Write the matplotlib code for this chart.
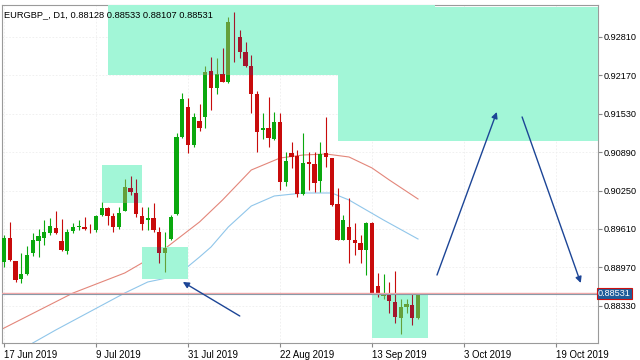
import matplotlib
matplotlib.use('Agg')
import matplotlib.pyplot as plt
from matplotlib.patches import Rectangle

# daily EURGBP candles, 17 Jun 2019 onwards
opens = [0.89060, 0.89460, 0.89077, 0.88777, 0.88860, 0.89210, 0.89410, 0.89460, 0.89543, 0.89627,
         0.89410, 0.89243, 0.89577, 0.89643, 0.89643, 0.89577, 0.89593, 0.89843, 0.89960, 0.89827,
         0.89643, 0.89910, 0.90293, 0.90210, 0.89827, 0.89760, 0.89793, 0.89560, 0.89210, 0.89443,
         0.89860, 0.91143, 0.91643, 0.91010, 0.91410, 0.91477, 0.92243, 0.91960, 0.92193, 0.92060,
         0.92827, 0.92810, 0.92560, 0.92327, 0.91860, 0.91260, 0.91293, 0.91110, 0.91393, 0.90393,
         0.90877, 0.90827, 0.90193, 0.90727, 0.90693, 0.90410, 0.90877, 0.90793, 0.90027, 0.89427,
         0.89643, 0.89427, 0.89377, 0.89260, 0.89710, 0.88660, 0.88493, 0.88543, 0.88393, 0.88127,
         0.88310, 0.88343, 0.88128]
highs = [0.89510, 0.89727, 0.89077, 0.89210, 0.89327, 0.89543, 0.89610, 0.89760, 0.89793, 0.89910,
         0.89777, 0.89610, 0.89710, 0.89760, 0.89810, 0.89693, 0.89843, 0.90060, 0.89977, 0.89877,
         0.89977, 0.90443, 0.90493, 0.90443, 0.89977, 0.89977, 0.90043, 0.89643, 0.89560, 0.89843,
         0.91210, 0.91877, 0.91793, 0.91543, 0.91693, 0.92327, 0.92477, 0.92460, 0.92627, 0.93143,
         0.93227, 0.92927, 0.92727, 0.92510, 0.91910, 0.91543, 0.91810, 0.91560, 0.91543, 0.90893,
         0.91060, 0.90927, 0.91210, 0.90893, 0.90893, 0.91060, 0.91477, 0.90793, 0.90293, 0.89843,
         0.90127, 0.89710, 0.89510, 0.89720, 0.89727, 0.88877, 0.88860, 0.88727, 0.88910, 0.88443,
         0.88443, 0.88527, 0.88533]
lows = [0.88977, 0.89077, 0.88727, 0.88710, 0.88843, 0.89160, 0.89143, 0.89343, 0.89510, 0.89527,
        0.89243, 0.89193, 0.89543, 0.89593, 0.89593, 0.89543, 0.89560, 0.89827, 0.89677, 0.89560,
        0.89610, 0.89910, 0.90177, 0.89810, 0.89593, 0.89593, 0.89560, 0.89043, 0.88893, 0.89427,
        0.89843, 0.91127, 0.90877, 0.90977, 0.91243, 0.91293, 0.91593, 0.91860, 0.92060, 0.92043,
        0.92393, 0.92460, 0.92310, 0.91543, 0.90893, 0.91110, 0.90977, 0.91093, 0.90260, 0.90327,
        0.90627, 0.90143, 0.90177, 0.90260, 0.90227, 0.90227, 0.90643, 0.90000, 0.89420, 0.89420,
        0.89043, 0.89177, 0.89043, 0.88843, 0.88530, 0.88477, 0.88443, 0.88210, 0.88043, 0.87860,
        0.88210, 0.88010, 0.88107]
closes = [0.89460, 0.89093, 0.88760, 0.88860, 0.89177, 0.89427, 0.89493, 0.89560, 0.89660, 0.89543,
          0.89260, 0.89560, 0.89643, 0.89660, 0.89610, 0.89570, 0.89827, 0.89960, 0.89827, 0.89643,
          0.89877, 0.90310, 0.90227, 0.89860, 0.89693, 0.89793, 0.89593, 0.89210, 0.89293, 0.89810,
          0.91143, 0.91777, 0.91010, 0.91477, 0.91293, 0.92227, 0.91960, 0.92193, 0.92060, 0.93060,
          0.92820, 0.92560, 0.92327, 0.91860, 0.91227, 0.91293, 0.91127, 0.91393, 0.90393, 0.90743,
          0.90810, 0.90193, 0.90710, 0.90693, 0.90377, 0.90860, 0.90810, 0.90010, 0.89427, 0.89760,
          0.89427, 0.89377, 0.89260, 0.89710, 0.88543, 0.88510, 0.88543, 0.88410, 0.88143, 0.88310,
          0.88360, 0.88127, 0.88531]

# moving averages, sampled at a few bars
ma_red_idx = [-1, 12, 21, 27, 34, 38, 43, 48, 52, 56, 60, 64, 67, 72]
ma_red = [0.87910, 0.88543, 0.88877, 0.89210, 0.89727, 0.90093, 0.90593, 0.90793, 0.90843,
          0.90860, 0.90810, 0.90627, 0.90427, 0.90110]
ma_blue_idx = [5, 9, 21, 25, 30, 34, 36, 39, 43, 47, 52, 57, 60, 66, 72]
ma_blue = [0.87710, 0.87927, 0.88543, 0.88727, 0.88827, 0.89143, 0.89310, 0.89643, 0.89993,
           0.90160, 0.90210, 0.90210, 0.90093, 0.89760, 0.89443]

# zones drawn on the chart: (bar from, bar to, price low, price high)
zones = [(18, 75, 0.92177, 0.93343),
         (58, 110, 0.91077, 0.93310),
         (17, 24, 0.90043, 0.90677),
         (24, 32, 0.88777, 0.89310),
         (64, 73.7, 0.87793, 0.88543)]

# arrows: (bar from, price from, bar to, price to)
arrows = [(41.0, 0.88160, 31.1, 0.88727),
          (75.3, 0.88843, 85.7, 0.91560),
          (90.1, 0.91477, 100.3, 0.88710)]

last_price = 0.88531
title = 'EURGBP_, D1, 0.88128 0.88533 0.88107 0.88531'
date_ticks = [0, 16, 32, 48, 64, 80, 96]
date_labels = ['17 Jun 2019', '9 Jul 2019', '31 Jul 2019', '22 Aug 2019',
               '13 Sep 2019', '3 Oct 2019', '19 Oct 2019']
price_ticks = [0.88330, 0.88970, 0.89610, 0.90250, 0.90890, 0.91530, 0.92170, 0.92810]

plt.rcParams['font.family'] = ['Liberation Sans', 'DejaVu Sans']

fig = plt.figure(figsize=(6.4, 3.6), dpi=100)
ax = fig.add_axes([2 / 640, 1 - 343 / 360, 596 / 640, 338 / 360])
ax.set_xlim(-0.35, 103.3)
ax.set_ylim(0.87710, 0.93343)

zone_color = '#a2f6d7'


def draw_candles(up, down, zorder, clip=None):
    for i, (o, h, l, c) in enumerate(zip(opens, highs, lows, closes)):
        color = up if c >= o else down
        wick = ax.vlines(i, l, h, color=color, lw=0.8, zorder=zorder)
        body = Rectangle((i - 0.36, min(o, c)), 0.72, max(abs(c - o), 0.00012),
                         facecolor=color, edgecolor='none', zorder=zorder + 0.1)
        ax.add_patch(body)
        if clip is not None:
            wick.set_clip_path(clip)
            body.set_clip_path(clip)


draw_candles('#0aa80e', '#c80b0b', 3)

# zones sit over the candles, which show through in darker tints
for x0, x1, y0, y1 in zones:
    rect = Rectangle((x0, y0), x1 - x0, y1 - y0, facecolor=zone_color,
                     edgecolor='none', zorder=4)
    ax.add_patch(rect)
    draw_candles('#64a03a', '#a3162c', 4.5, clip=rect)

ax.plot(ma_red_idx, ma_red, color='#e3867a', lw=0.8, zorder=2)
ax.plot(ma_blue_idx, ma_blue, color='#90c6ea', lw=0.8, zorder=2)

ax.axhline(last_price + 0.00014, color='#f3a8a8', lw=1.0, zorder=5)
ax.axhline(last_price, color='#8a9aa8', lw=0.8, zorder=5)

for x0, y0, x1, y1 in arrows:
    ax.annotate('', xy=(x1, y1), xytext=(x0, y0),
                arrowprops=dict(arrowstyle='-|>', color='#1c4596', lw=1.0,
                                mutation_scale=9, shrinkA=0, shrinkB=0),
                zorder=6)

ax.text(0.004, 0.985, title, transform=ax.transAxes, ha='left', va='top',
        fontsize=6.7, color='black', zorder=7)

# axes styling
ax.set_xticks(date_ticks)
ax.set_xticklabels(date_labels, ha='left', fontsize=6.9)
ax.set_yticks(price_ticks)
ax.set_yticklabels(['%.5f' % p for p in price_ticks], fontsize=6.6)
ax.yaxis.tick_right()
ax.tick_params(axis='x', length=3, pad=2, color='#888888')
ax.tick_params(axis='y', length=3, pad=1, color='#888888')
ax.grid(True, color='#eeeeee', lw=0.6, linestyle=(0, (2, 2)), zorder=0)
ax.set_axisbelow(True)
for s in ax.spines.values():
    s.set_color('#9a9a9a')
    s.set_linewidth(0.8)

ax.text(1.0, last_price, '%.5f' % last_price, transform=ax.get_yaxis_transform(),
        ha='left', va='center', fontsize=6.6, color='white', zorder=8,
        bbox=dict(boxstyle='square,pad=0.12', facecolor='#1f5c99',
                  edgecolor='#cc1111', lw=0.8), clip_on=False)

fig.savefig('out.png', dpi=100)
